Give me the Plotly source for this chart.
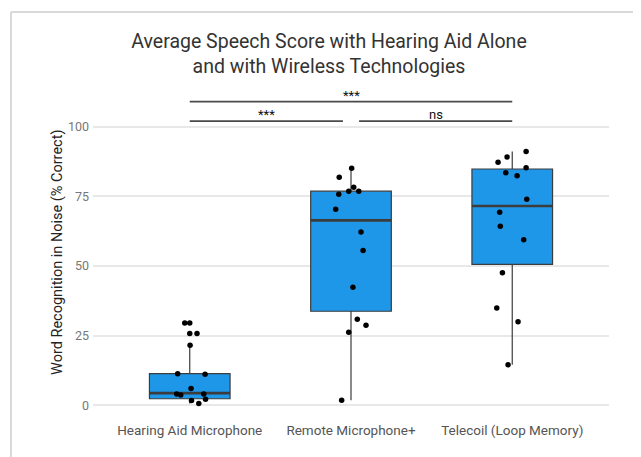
import plotly.graph_objects as go

# ---------------- data ----------------
categories = ["Hearing Aid Microphone", "Remote Microphone+", "Telecoil (Loop Memory)"]

# box statistics
box_q1 = [2.4, 33.8, 50.6]
box_median = [4.4, 66.4, 71.6]
box_q3 = [11.4, 76.9, 84.85]
box_lower = [0.7, 1.9, 14.6]
box_upper = [21.6, 85.1, 91.1]

# individual (jittered) observations
ha_values = [29.6, 29.6, 25.8, 25.8, 21.6, 11.4, 11.2, 6.1, 4.1, 3.7, 4.1, 2.2, 1.8, 0.7]
ha_jitter = [-0.031, 0.0, 0.0, 0.045, 0.002, -0.075, 0.095, 0.008, -0.081, -0.056, 0.087, 0.098, 0.011, 0.056]

rm_values = [85.1, 81.9, 78.3, 76.9, 76.9, 75.8, 70.4, 62.2, 55.6, 42.4, 30.9, 28.8, 26.3, 1.9]
rm_jitter = [0.004, -0.073, 0.017, -0.014, 0.048, -0.076, -0.095, 0.062, 0.075, 0.012, 0.039, 0.093, -0.014, -0.058]

tc_values = [91.1, 89.2, 87.3, 85.3, 83.5, 82.4, 74.0, 69.3, 64.3, 59.5, 47.6, 35.0, 30.0, 14.6]
tc_jitter = [0.086, -0.032, -0.088, 0.086, -0.040, 0.030, 0.090, -0.078, -0.074, 0.071, -0.061, -0.096, 0.036, -0.026]

y_ticks = [0, 25, 50, 75, 100]

# significance brackets: (from group, to group, y level, label)
sig_from = [0, 1, 0]
sig_to = [1, 2, 2]
sig_level = [102.0, 102.0, 109.0]
sig_label = ["***", "ns", "***"]

title_text = "Average Speech Score with Hearing Aid Alone<br>and with Wireless Technologies"
y_title = "Word Recognition in Noise (% Correct)"

# ---------------- figure ----------------
OFF = 8  # page body margin
W, H = 641, 457
# plot area in page pixels: x 93..609, y 85..411
ML = 93 - OFF
MT = 85 - OFF
MR = W - (609 - OFF)
MB = H - (411 - OFF)
PW, PH = W - ML - MR, H - MT - MB
FONT = "Roboto"
box_w = 0.5

fig = go.Figure()

fig.add_trace(go.Box(
    x=list(range(len(categories))),
    q1=box_q1, median=box_median, q3=box_q3,
    lowerfence=box_lower, upperfence=box_upper,
    width=box_w, whiskerwidth=0,
    fillcolor="#1E97E8",
    line=dict(color="#3c3c3c", width=1.2),
    boxpoints=False, hoverinfo="skip", showlegend=False,
))

# thicker median lines
for i, m in enumerate(box_median):
    fig.add_trace(go.Scatter(
        x=[i - box_w / 2, i + box_w / 2], y=[m, m], mode="lines",
        line=dict(color="#3c3c3c", width=2.6), showlegend=False, hoverinfo="skip",
    ))

for i, (vals, jit) in enumerate([(ha_values, ha_jitter), (rm_values, rm_jitter), (tc_values, tc_jitter)]):
    fig.add_trace(go.Scatter(
        x=[i + j for j in jit], y=vals, mode="markers",
        marker=dict(color="black", size=5.5), showlegend=False, hoverinfo="skip",
    ))

shapes = []
annotations = []
for a, b, lvl, lab in zip(sig_from, sig_to, sig_level, sig_label):
    x0, x1 = a, b
    if lvl == sig_level[0]:
        if a == 0:
            x1 = b - 0.05
        else:
            x0 = a + 0.05
    shapes.append(dict(type="line", xref="x", yref="y", x0=x0, x1=x1, y0=lvl, y1=lvl,
                       line=dict(color="#4a4a4a", width=1.8)))
    annotations.append(dict(x=(x0 + x1) / 2, y=lvl, xref="x", yref="y", text=lab,
                            showarrow=False, xanchor="center", yanchor="bottom", yshift=-3,
                            font=dict(family=FONT, size=13, color="#111111")))


def px_x(p):  # page pixel -> paper
    return (p - OFF - ML) / PW


def px_y(p):
    return (H - MB - (p - OFF)) / PH


shapes.append(dict(type="line", xref="paper", yref="paper",
                   x0=px_x(11), x1=px_x(700), y0=px_y(12), y1=px_y(12),
                   line=dict(color="#d9d9d9", width=2)))
shapes.append(dict(type="line", xref="paper", yref="paper",
                   x0=px_x(11), x1=px_x(11), y0=px_y(12), y1=px_y(520),
                   line=dict(color="#d9d9d9", width=2)))

annotations.append(dict(x=px_x(57), y=px_y(253), xref="paper", yref="paper",
                        text=y_title, textangle=-90, showarrow=False,
                        xanchor="center", yanchor="middle",
                        font=dict(family=FONT, size=14.5, color="#222222")))

fig.update_layout(
    width=W, height=H,
    margin=dict(l=ML, r=MR, t=MT, b=MB),
    paper_bgcolor="white", plot_bgcolor="white",
    title=dict(text=title_text, x=(329 - OFF) / W, xanchor="center", y=1 - (48 - OFF) / H,
               yanchor="middle", yref="container",
               font=dict(family=FONT, size=19.5, color="#333333")),
    xaxis=dict(range=[-0.6, 2.6], tickvals=list(range(len(categories))), ticktext=categories,
               showgrid=False, zeroline=False, showline=False, ticks="",
               tickfont=dict(family=FONT, size=13.5, color="#555555"), ticklabelstandoff=9),
    yaxis=dict(range=[-2, 115], tickvals=y_ticks, showgrid=True, gridcolor="#e8e8e8", gridwidth=1.6,
               zeroline=False, showline=False, ticks="",
               tickfont=dict(family=FONT, size=12.5, color="#777777"), ticklabelstandoff=3),
    shapes=shapes, annotations=annotations,
    font=dict(family=FONT),
)

fig.write_html("out.html")
